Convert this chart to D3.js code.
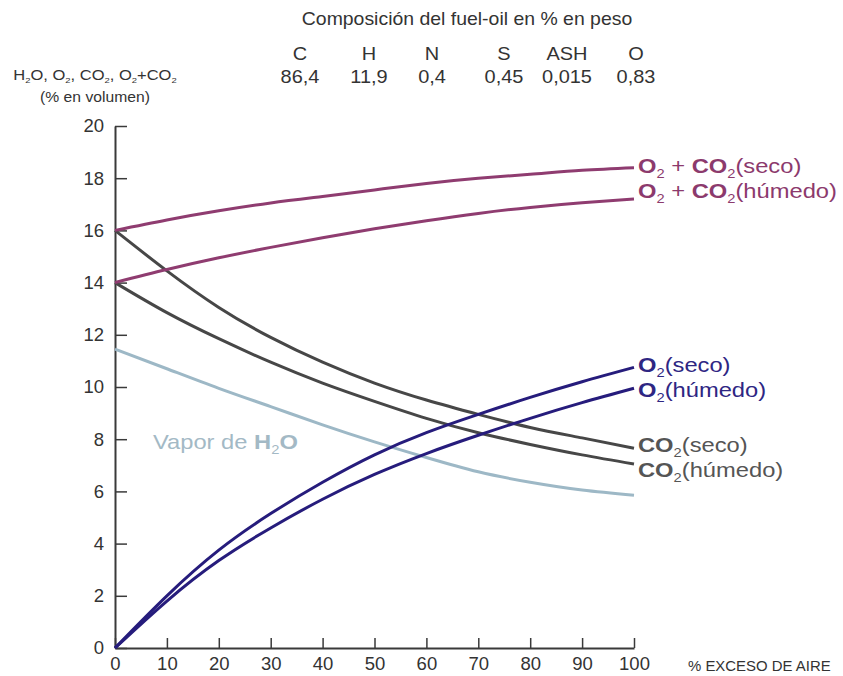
<!DOCTYPE html>
<html>
<head>
<meta charset="utf-8">
<script src="https://cdn.jsdelivr.net/npm/d3@7"></script>
<style>
  html, body { margin: 0; padding: 0; background: #ffffff; }
  svg { display: block; font-family: "Liberation Sans", Arial, sans-serif; }
</style>
</head>
<body>
<svg id="chart" width="843" height="676"></svg>
<script>
// ---- data ----
const excesoAire = [0, 10, 20, 30, 40, 50, 60, 70, 80, 90, 100];
const o2co2Seco    = [16.0, 16.4, 16.75, 17.05, 17.3, 17.55, 17.8, 18.0, 18.15, 18.3, 18.4];
const o2co2Humedo  = [14.0, 14.5, 14.95, 15.35, 15.72, 16.06, 16.37, 16.65, 16.88, 17.06, 17.2];
const o2Seco       = [0, 2.0, 3.75, 5.15, 6.35, 7.4, 8.25, 8.95, 9.6, 10.2, 10.75];
const o2Humedo     = [0, 1.8, 3.35, 4.6, 5.7, 6.65, 7.45, 8.15, 8.8, 9.4, 9.95];
const co2Seco      = [16.0, 14.45, 13.05, 11.9, 10.95, 10.15, 9.5, 8.95, 8.45, 8.05, 7.65];
const co2Humedo    = [14.0, 12.85, 11.85, 10.95, 10.15, 9.45, 8.8, 8.25, 7.8, 7.4, 7.05];
const vaporH2O     = [11.45, 10.7, 9.95, 9.25, 8.55, 7.9, 7.3, 6.75, 6.35, 6.05, 5.85];

const xTicks = [0, 10, 20, 30, 40, 50, 60, 70, 80, 90, 100];
const yTicks = [0, 2, 4, 6, 8, 10, 12, 14, 16, 18, 20];

const compElements = ["C", "H", "N", "S", "ASH", "O"];
const compValues   = ["86,4", "11,9", "0,4", "0,45", "0,015", "0,83"];

// ---- layout ----
const svg = d3.select("#chart");
const x = d3.scaleLinear().domain([0, 100]).range([115, 634]);
const y = d3.scaleLinear().domain([0, 20]).range([648, 126]);

const axisColor = "#3a3a3a";
const tickTextColor = "#333333";
const SX = 1.13; // horizontal stretch of the reference lettering

// y axis
const gy = svg.append("g").attr("transform", `translate(${x(0)},0)`)
  .call(d3.axisLeft(y).tickValues(yTicks).tickSizeInner(-12).tickSizeOuter(0).tickPadding(11));
// x axis
const gx = svg.append("g").attr("transform", `translate(0,${y(0)})`)
  .call(d3.axisBottom(x).tickValues(xTicks).tickSizeInner(-10).tickSizeOuter(0).tickPadding(9));

[gx, gy].forEach(g => {
  g.select(".domain").attr("stroke", axisColor).attr("stroke-width", 2);
  g.selectAll(".tick line").attr("stroke", axisColor).attr("stroke-width", 1.5);
  g.selectAll(".tick text").attr("fill", tickTextColor)
    .style("font-size", "18.5px").style("font-family", "'Liberation Sans', Arial, sans-serif");
});

// ---- curves ----
const line = d3.line()
  .x((d, i) => x(excesoAire[i]))
  .y(d => y(d))
  .curve(d3.curveNatural);

const series = [
  { v: vaporH2O,    c: "#9db8c6" },
  { v: co2Seco,     c: "#474747" },
  { v: co2Humedo,   c: "#474747" },
  { v: o2co2Seco,   c: "#8f3c70" },
  { v: o2co2Humedo, c: "#8f3c70" },
  { v: o2Seco,      c: "#261c7c" },
  { v: o2Humedo,    c: "#261c7c" }
];

svg.append("g").selectAll("path").data(series).join("path")
  .attr("d", d => line(d.v))
  .attr("fill", "none")
  .attr("stroke", d => d.c)
  .attr("stroke-width", 3)
  .attr("stroke-linecap", "butt");

// ---- helper for rich labels ----
function richText(parent, xPos, yPos, parts, color, size, anchor, sx) {
  const g = parent.append("g")
    .attr("transform", `translate(${xPos},${yPos}) scale(${sx || SX},1)`);
  const t = g.append("text")
    .attr("x", 0).attr("y", 0)
    .attr("fill", color)
    .attr("text-anchor", anchor || "start")
    .style("font-size", size + "px")
    .style("white-space", "pre");
  let sub = false;
  parts.forEach(p => {
    const ts = t.append("tspan").text(p.t);
    if (p.b) ts.attr("font-weight", "bold");
    if (p.s) {
      ts.style("font-size", Math.round(size * 0.6) + "px").attr("dy", size * 0.22);
      sub = true;
    } else if (sub) {
      ts.attr("dy", -size * 0.22);
      sub = false;
    }
  });
  return t;
}

const magentaTxt = "#8c3a6d";
const navyTxt = "#2e2683";
const greyTxt = "#555555";

richText(svg, 638, 173, [{t:"O", b:1},{t:"2", s:1},{t:" + "},{t:"CO", b:1},{t:"2", s:1},{t:"(seco)"}], magentaTxt, 21);
richText(svg, 638, 198, [{t:"O", b:1},{t:"2", s:1},{t:" + "},{t:"CO", b:1},{t:"2", s:1},{t:"(húmedo)"}], magentaTxt, 21);
richText(svg, 638, 372, [{t:"O", b:1},{t:"2", s:1},{t:"(seco)"}], navyTxt, 21);
richText(svg, 638, 397, [{t:"O", b:1},{t:"2", s:1},{t:"(húmedo)"}], navyTxt, 21);
richText(svg, 638, 452, [{t:"CO", b:1},{t:"2", s:1},{t:"(seco)"}], greyTxt, 21);
richText(svg, 638, 477, [{t:"CO", b:1},{t:"2", s:1},{t:"(húmedo)"}], greyTxt, 21);
richText(svg, 153, 449, [{t:"Vapor de "},{t:"H", b:1},{t:"2", s:1},{t:"O", b:1}], "#a3b9c5", 21);

// ---- header ----
richText(svg, 467, 25, [{t:"Composición del fuel-oil en % en peso"}], "#333", 18, "middle", 1.08);

const compX = [300, 369, 432, 504, 567, 636];
compElements.forEach((d, i) => richText(svg, compX[i], 60, [{t:d}], "#333", 19, "middle", 1.05));
compValues.forEach((d, i) => richText(svg, compX[i], 83, [{t:d}], "#333", 19, "middle", 1.05));

// left axis title
richText(svg, 95, 80, [{t:"H"},{t:"2", s:1},{t:"O, O"},{t:"2", s:1},{t:", CO"},{t:"2", s:1},{t:", O"},{t:"2", s:1},{t:"+CO"},{t:"2", s:1}], "#333", 14, "middle", 1.18);
richText(svg, 95, 102, [{t:"(% en volumen)"}], "#333", 14, "middle", 1.12);

// x axis title
richText(svg, 688, 671, [{t:"% EXCESO DE AIRE"}], "#333", 14.5, "start", 1.03);
</script>
</body>
</html>
